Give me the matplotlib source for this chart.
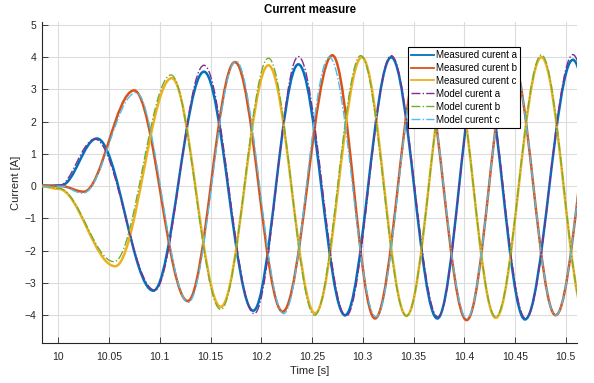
import matplotlib
matplotlib.use("Agg")
import matplotlib.pyplot as plt
from matplotlib.path import Path
from matplotlib.patches import PathPatch
from matplotlib.lines import Line2D

plt.rcParams['font.family'] = ['Liberation Sans', 'DejaVu Sans']

# turning points (time [s], current [A])
t_meas_a = [9.9836, 10.003, 10.038, 10.0936, 10.1435, 10.192, 10.2365, 10.2825, 10.328, 10.3734, 10.416, 10.4598, 10.507, 10.552]
i_meas_a = [0.0, 0.03, 1.48, -3.24, 3.55, -3.86, 3.78, -4.0, 4.0, -4.1, 4.0, -4.13, 3.92, -4.1]

t_meas_b = [9.9836, 10.003, 10.025, 10.0747, 10.1275, 10.174, 10.221, 10.270, 10.312, 10.357, 10.4023, 10.446, 10.490, 10.536]
i_meas_b = [0.03, 0.0, -0.17, 2.97, -3.56, 3.85, -3.89, 4.06, -4.1, 4.05, -4.15, 4.05, -4.0, 4.0]

t_meas_c = [9.9836, 10.0, 10.056, 10.1117, 10.160, 10.207, 10.253, 10.299, 10.343, 10.387, 10.431, 10.476, 10.520]
i_meas_c = [0.0, -0.08, -2.48, 3.35, -3.74, 3.75, -3.94, 4.0, -4.02, 4.05, -4.08, 4.0, -4.1]

t_model_a = [9.9836, 10.0, 10.036, 10.095, 10.1435, 10.193, 10.2365, 10.2835, 10.328, 10.374, 10.416, 10.4605, 10.507, 10.552]
i_model_a = [0.0, 0.0, 1.46, -3.22, 3.75, -3.95, 4.02, -4.03, 4.05, -4.05, 4.05, -4.1, 4.08, -4.1]

t_model_b = [9.9836, 10.0, 10.055, 10.111, 10.160, 10.207, 10.2525, 10.298, 10.343, 10.387, 10.431, 10.476, 10.520]
i_model_b = [0.0, -0.06, -2.34, 3.45, -3.82, 3.97, -4.0, 4.05, -4.02, 4.05, -4.05, 4.07, -4.1]

t_model_c = [9.9836, 10.003, 10.024, 10.0766, 10.128, 10.175, 10.222, 10.267, 10.313, 10.357, 10.4025, 10.446, 10.490, 10.536]
i_model_c = [0.0, 0.0, -0.22, 2.9, -3.6, 3.88, -3.95, 4.0, -4.05, 4.05, -4.1, 4.05, -4.0, 4.05]

labels = ['Measured curent a', 'Measured curent b', 'Measured curent c',
          'Model curent a', 'Model curent b', 'Model curent c']
colors = ['#0072BD', '#D95319', '#EDB120', '#7E2F8E', '#77AC30', '#4DBEEE']

x_ticks = [10, 10.05, 10.1, 10.15, 10.2, 10.25, 10.3, 10.35, 10.4, 10.45, 10.5]
x_ticklabels = ['10', '10.05', '10.1', '10.15', '10.2', '10.25', '10.3', '10.35', '10.4', '10.45', '10.5']
y_ticks = [-4, -3, -2, -1, 0, 1, 2, 3, 4, 5]


def wave_path(ts, vs, k=0.36):
    """smooth curve through turning points (flat tangent at each one)"""
    verts = [(ts[0], vs[0])]
    codes = [Path.MOVETO]
    for i in range(len(ts) - 1):
        dt = ts[i + 1] - ts[i]
        verts += [(ts[i] + k * dt, vs[i]), (ts[i + 1] - k * dt, vs[i + 1]), (ts[i + 1], vs[i + 1])]
        codes += [Path.CURVE4] * 3
    return Path(verts, codes)


fig = plt.figure(figsize=(5.94, 3.83), dpi=100)
ax = fig.add_axes([0.0702, 0.1036, 0.9018, 0.8397])

series = [(t_meas_a, i_meas_a), (t_meas_b, i_meas_b), (t_meas_c, i_meas_c),
          (t_model_a, i_model_a), (t_model_b, i_model_b), (t_model_c, i_model_c)]

handles = []
for n, (ts, vs) in enumerate(series):
    model = n >= 3
    ls = '-.' if model else '-'
    lw = 1.0 if model else 1.8
    ax.add_patch(PathPatch(wave_path(ts, vs), fill=False, edgecolor=colors[n],
                           lw=lw, linestyle=ls, zorder=3 + n))
    handles.append(Line2D([], [], color=colors[n], lw=1.0 if model else 1.3, linestyle=ls))

ax.set_xlim(9.9836, 10.5114)
ax.set_ylim(-4.87, 5.1)
ax.set_xticks(x_ticks)
ax.set_xticklabels(x_ticklabels)
ax.set_yticks(y_ticks)

ax.grid(True, color='#dcdcdc', lw=0.8)
ax.set_axisbelow(True)
for side in ['top', 'right']:
    ax.spines[side].set_visible(False)
for side in ['left', 'bottom']:
    ax.spines[side].set_color('#262626')
    ax.spines[side].set_linewidth(0.8)
ax.tick_params(direction='in', length=4, width=0.6, colors='#262626', labelsize=7.5)
ax.tick_params(axis='x', pad=6)
ax.tick_params(axis='y', pad=4)

ax.set_title('Current measure', fontsize=8.3, fontweight='bold', pad=6)
ax.set_xlabel('Time [s]', fontsize=8, color='#262626', labelpad=3)
ax.set_ylabel('Current [A]', fontsize=8, color='#262626', labelpad=2)

leg = ax.legend(handles, labels, loc='upper left', bbox_to_anchor=(0.684, 0.921),
                fontsize=7, fancybox=False, framealpha=1, edgecolor='black',
                handlelength=2.4, handletextpad=0.2, labelspacing=0.3,
                borderpad=0.3, borderaxespad=0)
leg.get_frame().set_linewidth(0.8)
leg.set_zorder(20)

fig.savefig('out.png', dpi=100)
